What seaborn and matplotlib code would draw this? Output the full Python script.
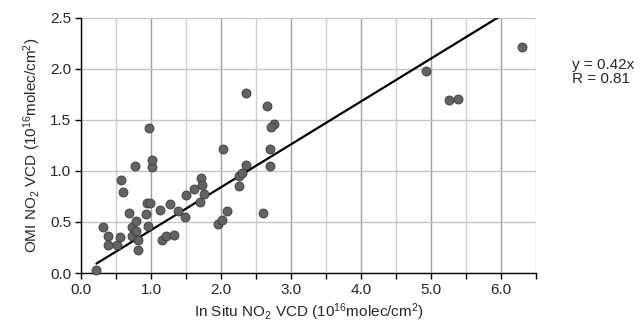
import matplotlib
matplotlib.use("Agg")

import matplotlib.pyplot as plt
import numpy as np
import seaborn as sns
from matplotlib.ticker import FormatStrFormatter, MultipleLocator

# --------------------------------------------------------------------------- #
# Data (units of 1e16 molec/cm^2)
# --------------------------------------------------------------------------- #
IN_SITU = [
    0.22, 0.31, 0.38, 0.38, 0.52, 0.55, 0.57, 0.60, 0.68, 0.77,
    0.73, 0.73, 0.78, 0.79, 0.81, 0.81, 0.94, 0.99, 0.93, 0.95,
    1.01, 1.01, 0.97, 1.13, 1.15, 1.21, 1.27, 1.33, 1.38, 1.48,
    1.50, 1.62, 1.70, 1.72, 1.73, 1.76, 1.96, 2.01, 2.08, 2.03,
    2.25, 2.25, 2.30, 2.35, 2.60, 2.70, 2.70, 2.36, 2.66, 2.76,
    2.72, 4.93, 5.25, 5.38, 6.30,
]
OMI = [
    0.03, 0.45, 0.36, 0.27, 0.27, 0.35, 0.91, 0.79, 0.59, 1.05,
    0.45, 0.36, 0.41, 0.51, 0.32, 0.23, 0.69, 0.69, 0.58, 0.46,
    1.04, 1.11, 1.42, 0.62, 0.32, 0.36, 0.68, 0.37, 0.61, 0.55,
    0.76, 0.82, 0.70, 0.93, 0.86, 0.77, 0.48, 0.52, 0.61, 1.21,
    0.85, 0.95, 0.98, 1.06, 0.59, 1.05, 1.21, 1.76, 1.64, 1.46,
    1.43, 1.98, 1.69, 1.70, 2.21,
]
FIT_SLOPE = 0.42
FIT_R = 0.81

X_LABEL = r"In Situ NO$_2$ VCD (10$^{16}$molec/cm$^2$)"
Y_LABEL = r"OMI NO$_2$ VCD (10$^{16}$molec/cm$^2$)"

FONT_SIZE = 11

sns.set_theme(style="white")
plt.rcParams["font.family"] = ["Liberation Sans", "DejaVu Sans"]
plt.rcParams["mathtext.fontset"] = "custom"
plt.rcParams["mathtext.rm"] = "Liberation Sans"
plt.rcParams["mathtext.it"] = "Liberation Sans:italic"
plt.rcParams["mathtext.bf"] = "Liberation Sans:bold"

fig = plt.figure(figsize=(6.4, 3.34), dpi=100)
ax = fig.add_axes([0.1266, 0.1826, 0.7109, 0.7644])

ax.set_xlim(0, 6.5)
ax.set_ylim(0, 2.5)

# grid: darker at whole units, lighter at half units
ax.xaxis.set_major_locator(MultipleLocator(1.0))
ax.xaxis.set_minor_locator(MultipleLocator(0.5))
ax.yaxis.set_major_locator(MultipleLocator(0.5))
ax.grid(which="major", axis="x", color="#a0a0a0", linewidth=1.0)
ax.grid(which="minor", axis="x", color="#cfcfcf", linewidth=1.0)
ax.grid(which="major", axis="y", color="#c4c4c4", linewidth=1.0)
ax.set_axisbelow(True)

x_fit = np.array([min(IN_SITU), max(IN_SITU)])
sns.lineplot(x=x_fit, y=FIT_SLOPE * x_fit, ax=ax, color="black",
             linewidth=1.6, zorder=2)
sns.scatterplot(x=IN_SITU, y=OMI, ax=ax, s=42, color="#636363",
                edgecolor="#3a3a3a", linewidth=0.6, zorder=3, clip_on=False)

for side in ("top", "right"):
    ax.spines[side].set_visible(False)
for side in ("left", "bottom"):
    ax.spines[side].set_color("black")
    ax.spines[side].set_linewidth(1.0)

ax.tick_params(which="both", direction="out", length=4, width=1.0,
               color="black", labelsize=FONT_SIZE, pad=3,
               bottom=True, left=True)
ax.xaxis.set_major_formatter(FormatStrFormatter("%.1f"))
ax.yaxis.set_major_formatter(FormatStrFormatter("%.1f"))

ax.set_xlabel(X_LABEL, fontsize=FONT_SIZE, labelpad=3)
ax.set_ylabel(Y_LABEL, fontsize=FONT_SIZE, labelpad=5)

fig.text(0.893, 0.784, f"y = {FIT_SLOPE:.2f}x\nR = {FIT_R:.2f}",
         fontsize=FONT_SIZE, ha="left", va="center", linespacing=0.95)

fig.savefig("out.png", dpi=100)
